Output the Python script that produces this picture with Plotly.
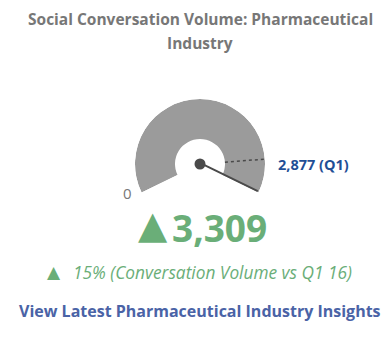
import plotly.graph_objects as go

# Data
gauge_min = 0
gauge_max = 3309
current_value = 3309
q1_value = 2877
change_pct = 15
title_lines = ["Social Conversation Volume: Pharmaceutical", "Industry"]
q1_label = "2,877 (Q1)"
compare_label = "15% (Conversation Volume vs Q1 16)"
link_label = "View Latest Pharmaceutical Industry Insights"

START_ANG = 206.0
END_ANG = -26.0
SWEEP = START_ANG - END_ANG
HOLE = 25 / 65


def ang(v):
    return START_ANG - (v - gauge_min) / (gauge_max - gauge_min) * SWEEP


GRAY = "#9b9b9b"
DARK = "#4a4a4a"
GREEN = "#6aae78"
BLUE = "#4a63a6"
DBLUE = "#1f4f96"
TGRAY = "#777777"

fig = go.Figure()

# gauge band
fig.add_trace(go.Barpolar(
    r=[1 - HOLE], base=[HOLE],
    theta=[(ang(gauge_min) + ang(current_value)) / 2],
    width=[abs(ang(current_value) - ang(gauge_min))],
    marker=dict(color=GRAY, line=dict(width=0)),
    hoverinfo="skip", showlegend=False))

# Q1 dashed marker
fig.add_trace(go.Scatterpolar(
    r=[HOLE, 1], theta=[ang(q1_value)] * 2, mode="lines",
    line=dict(color=DARK, width=1.5, dash="3px,3px"),
    hoverinfo="skip", showlegend=False))

# needle
fig.add_trace(go.Scatterpolar(
    r=[0, 0.98], theta=[ang(current_value)] * 2, mode="lines",
    line=dict(color=DARK, width=4),
    hoverinfo="skip", showlegend=False))
fig.add_trace(go.Scatterpolar(
    r=[0], theta=[0], mode="markers",
    marker=dict(color=DARK, size=11),
    hoverinfo="skip", showlegend=False))

fig.update_layout(
    width=392, height=340,
    margin=dict(l=0, r=0, t=0, b=0),
    paper_bgcolor="white", plot_bgcolor="white",
    polar=dict(
        domain=dict(x=[135 / 392, 265 / 392], y=[1 - 192.5 / 340, 1 - 99 / 340]),
        sector=[END_ANG, START_ANG],
        bgcolor="rgba(0,0,0,0)",
        radialaxis=dict(range=[0, 1], visible=False, showgrid=False),
        angularaxis=dict(visible=False, showgrid=False, rotation=0, direction="counterclockwise"),
    ),
    showlegend=False,
)

font_main = "Open Sans"


def A(text, x, y, size, color, xanchor="center", family=font_main):
    return dict(text=text, x=x / 392, y=1 - y / 340, xref="paper", yref="paper",
                xanchor=xanchor, yanchor="middle", showarrow=False,
                font=dict(family=family, size=size, color=color), align="center")


ann = [
    A("<b>" + title_lines[0] + "</b>", 200, 19, 15.5, TGRAY),
    A("<b>" + title_lines[1] + "</b>", 200, 43, 15.5, TGRAY),
    A("<b>" + q1_label + "</b>", 276, 164, 14.5, DBLUE, "left"),
    A(f"{gauge_min}", 127, 193, 15, TGRAY),
    A("▲", 153, 225, 38, GREEN, family="DejaVu Sans"),
    A("<b>" + f"{current_value:,}" + "</b>", 220, 227, 37, GREEN),
    A("▲", 54, 272, 17, GREEN, family="DejaVu Sans"),
    A("<i>" + compare_label + "</i>", 212, 272, 17.3, GREEN),
    A("<b>" + link_label + "</b>", 200, 311, 16, BLUE),
]
fig.update_layout(annotations=ann)

fig.write_html("out.html")
